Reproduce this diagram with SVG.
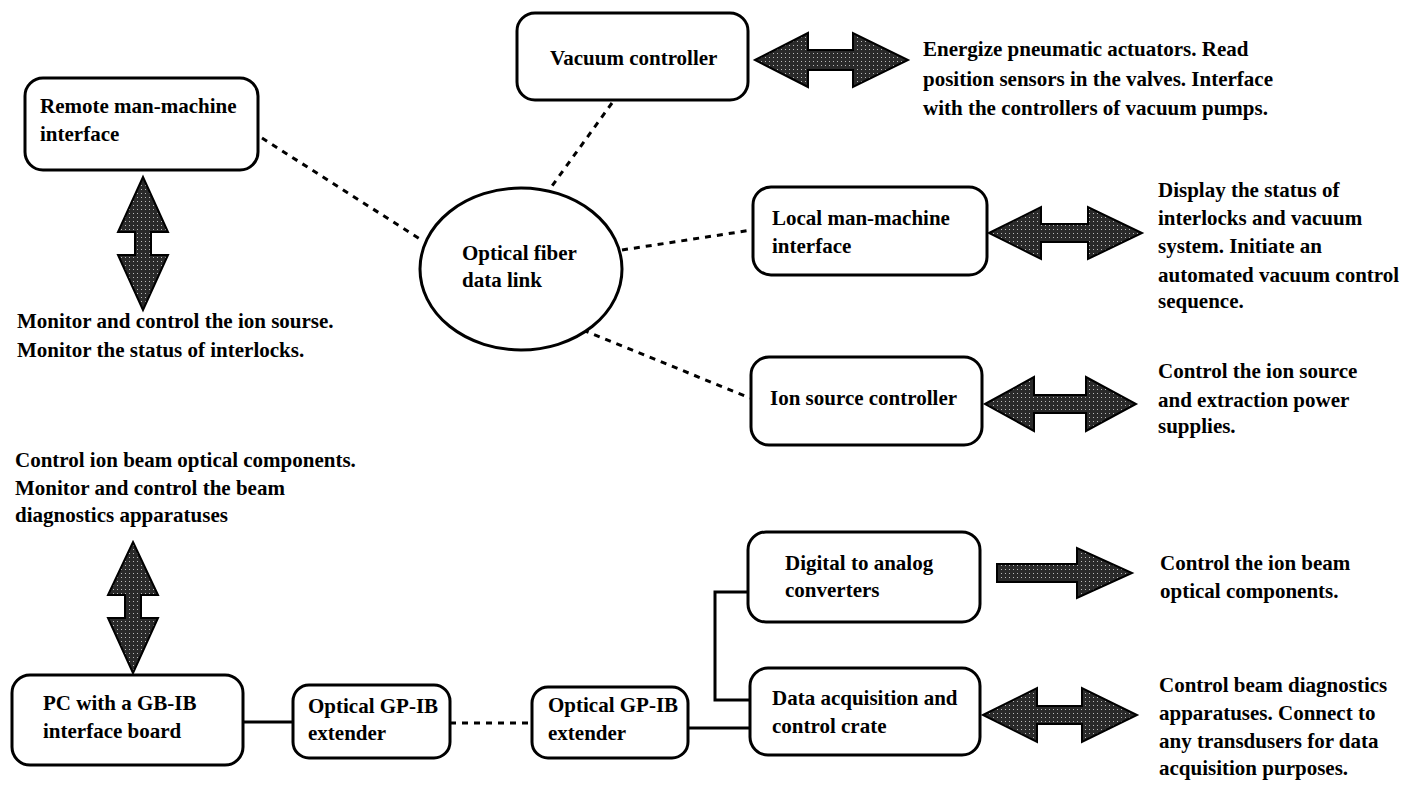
<svg xmlns="http://www.w3.org/2000/svg" width="1416" height="787" viewBox="0 0 1416 787">
<style>
.box{fill:#fff;stroke:#000;stroke-width:3}
.t{font-family:"Liberation Serif","Times New Roman",serif;font-size:21px;font-weight:bold;fill:#000}
.dash{fill:none;stroke:#000;stroke-width:3;stroke-dasharray:6 6}
.solid{fill:none;stroke:#000;stroke-width:3}
.arr{fill:url(#stip);stroke:#000;stroke-width:2;stroke-linejoin:miter}
</style>
<defs>
<pattern id="stip" width="4" height="4" patternUnits="userSpaceOnUse">
<rect width="4" height="4" fill="#2a2a2a"/>
<rect x="1" y="1" width="1" height="1" fill="#bbb"/>
</pattern>
</defs>
<rect width="1416" height="787" fill="#fff"/>
<g id="connectors">
<line class="dash" x1="262" y1="138" x2="423" y2="241"/>
<line class="dash" x1="612" y1="103" x2="552" y2="186"/>
<line class="dash" x1="622" y1="250" x2="752" y2="230"/>
<line class="dash" x1="583" y1="330" x2="750" y2="398"/>
<line class="dash" x1="450" y1="723" x2="532" y2="723"/>
<line class="solid" x1="243" y1="722" x2="293" y2="722"/>
<line class="solid" x1="688" y1="728" x2="750" y2="728"/>
<polyline class="solid" points="748,592 715,592 715,700 750,700"/>
</g>
<g id="arrows">
<path class="arr" d="M755,60 L808,33 L808,50 L853,50 L853,33 L908,60 L853,87 L853,70 L808,70 L808,87 Z"/>
<path class="arr" d="M989,233 L1041,207 L1041,224 L1088,224 L1088,207 L1142,233 L1088,259 L1088,242 L1041,242 L1041,259 Z"/>
<path class="arr" d="M985,404 L1034,377 L1034,395 L1086,395 L1086,377 L1136,404 L1086,431 L1086,413 L1034,413 L1034,431 Z"/>
<path class="arr" d="M983,715 L1037,688 L1037,706 L1082,706 L1082,688 L1137,715 L1082,742 L1082,724 L1037,724 L1037,742 Z"/>
<path class="arr" d="M997,564 L1077,564 L1077,548 L1132,573 L1077,598 L1077,582 L997,582 Z"/>
<path class="arr" d="M143,177 L168,232 L151,232 L151,255 L168,255 L143,310 L118,255 L135,255 L135,232 L118,232 Z"/>
<path class="arr" d="M133,542 L158,595 L141,595 L141,618 L158,618 L133,673 L108,618 L125,618 L125,595 L108,595 Z"/>
</g>
<g id="remote">
<rect class="box" x="25" y="78" width="233" height="92" rx="18"/>
<text class="t" x="40" y="113">Remote man-machine</text>
<text class="t" x="40" y="141">interface</text>
</g>
<g id="remote-desc">
<text class="t" x="17" y="328">Monitor and control the ion sourse.</text>
<text class="t" x="17" y="357">Monitor the status of interlocks.</text>
</g>
<g id="vacuum">
<rect class="box" x="517" y="13" width="231" height="87" rx="18"/>
<text class="t" x="550" y="65">Vacuum controller</text>
</g>
<g id="vacuum-desc">
<text class="t" x="923" y="56">Energize pneumatic actuators. Read</text>
<text class="t" x="923" y="86">position sensors in the valves. Interface</text>
<text class="t" x="923" y="115">with the controllers of vacuum pumps.</text>
</g>
<g id="fiber">
<ellipse class="box" cx="521" cy="269" rx="101" ry="81"/>
<text class="t" x="462" y="260">Optical fiber</text>
<text class="t" x="462" y="287">data link</text>
</g>
<g id="local">
<rect class="box" x="753" y="187" width="234" height="88" rx="18"/>
<text class="t" x="772" y="225">Local man-machine</text>
<text class="t" x="772" y="253">interface</text>
</g>
<g id="local-desc">
<text class="t" x="1158" y="197">Display the status of</text>
<text class="t" x="1158" y="225">interlocks and vacuum</text>
<text class="t" x="1158" y="253">system. Initiate an</text>
<text class="t" x="1158" y="282">automated vacuum control</text>
<text class="t" x="1158" y="308">sequence.</text>
</g>
<g id="ion">
<rect class="box" x="751" y="357" width="231" height="88" rx="18"/>
<text class="t" x="770" y="405">Ion source controller</text>
</g>
<g id="ion-desc">
<text class="t" x="1158" y="378">Control the ion source</text>
<text class="t" x="1158" y="407">and extraction power</text>
<text class="t" x="1158" y="433">supplies.</text>
</g>
<g id="pc-desc">
<text class="t" x="15" y="467">Control ion beam optical components.</text>
<text class="t" x="15" y="495">Monitor and control the beam</text>
<text class="t" x="15" y="522">diagnostics apparatuses</text>
</g>
<g id="pc">
<rect class="box" x="12" y="675" width="231" height="90" rx="18"/>
<text class="t" x="43" y="710">PC with a GB-IB</text>
<text class="t" x="43" y="738">interface board</text>
</g>
<g id="opt1">
<rect class="box" x="293" y="685" width="157" height="73" rx="16"/>
<text class="t" x="308" y="713">Optical GP-IB</text>
<text class="t" x="308" y="740">extender</text>
</g>
<g id="opt2">
<rect class="box" x="532" y="687" width="156" height="71" rx="16"/>
<text class="t" x="548" y="712">Optical GP-IB</text>
<text class="t" x="548" y="740">extender</text>
</g>
<g id="dac">
<rect class="box" x="748" y="532" width="232" height="90" rx="18"/>
<text class="t" x="785" y="570">Digital to analog</text>
<text class="t" x="785" y="597">converters</text>
</g>
<g id="dac-desc">
<text class="t" x="1160" y="570">Control the ion beam</text>
<text class="t" x="1160" y="598">optical components.</text>
</g>
<g id="daq">
<rect class="box" x="750" y="668" width="230" height="87" rx="18"/>
<text class="t" x="772" y="705">Data acquisition and</text>
<text class="t" x="772" y="733">control crate</text>
</g>
<g id="daq-desc">
<text class="t" x="1159" y="692">Control beam diagnostics</text>
<text class="t" x="1159" y="720">apparatuses. Connect to</text>
<text class="t" x="1159" y="748">any transdusers for data</text>
<text class="t" x="1159" y="775">acquisition purposes.</text>
</g>
</svg>
